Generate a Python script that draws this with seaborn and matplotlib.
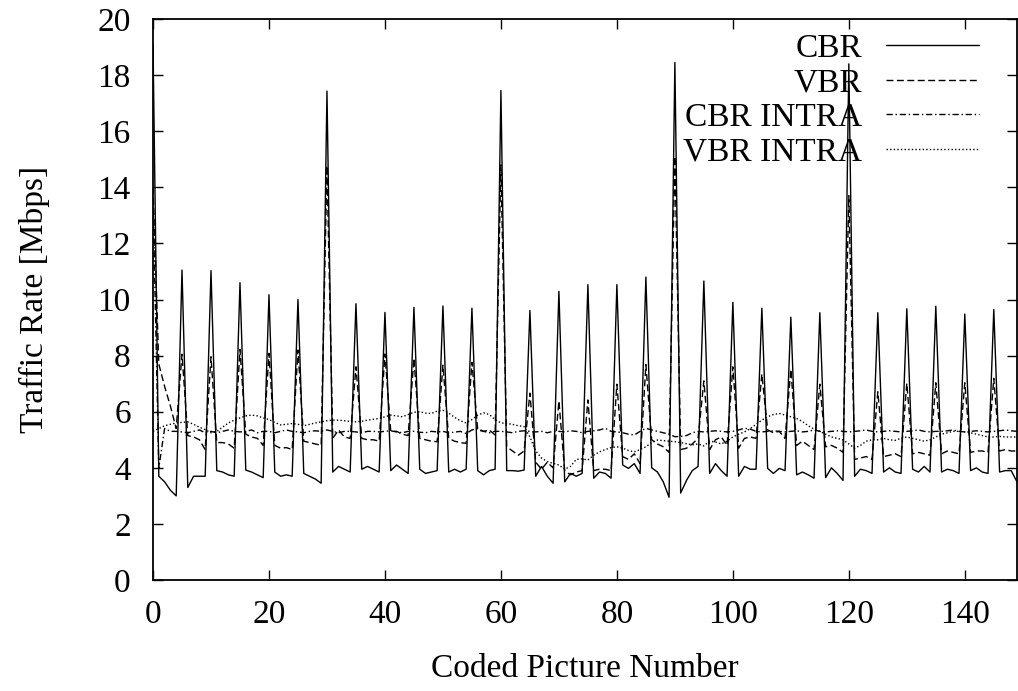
import numpy as np
import pandas as pd
import matplotlib
matplotlib.use("Agg")
import matplotlib.pyplot as plt
import seaborn as sns

frames = list(range(150))

cbr = [19.1, 3.7, 3.5, 3.2, 3.0,
       11.05, 3.3, 3.7, 3.7, 3.7,
       11.03, 3.9, 3.85, 3.75, 3.7,
       10.6, 3.92, 3.85, 3.75, 3.65,
       10.17, 3.85, 3.7, 3.75, 3.7,
       10.0, 3.8, 3.7, 3.6, 3.45,
       17.43, 3.85, 4.05, 3.95, 3.85,
       9.85, 3.95, 4.05, 3.95, 3.85,
       9.54, 3.9, 4.1, 3.95, 3.8,
       9.72, 3.95, 3.8, 3.85, 3.9,
       9.77, 3.85, 3.95, 3.85, 3.95,
       9.69, 3.9, 3.75, 3.9, 3.95,
       17.45, 3.9, 3.9, 3.88, 3.92,
       9.61, 3.7, 4.05, 3.7, 3.45,
       10.29, 3.5, 3.8, 3.7, 3.8,
       10.53, 3.63, 3.85, 3.8, 3.63,
       10.53, 4.1, 3.98, 4.15, 3.8,
       10.8, 4.0, 3.85, 3.5, 2.95,
       18.45, 3.1, 3.55, 3.9, 4.05,
       10.66, 3.8, 4.15, 3.9, 3.7,
       9.9, 3.7, 4.05, 3.95, 3.95,
       9.69, 3.98, 3.8, 3.98, 3.9,
       9.37, 3.75, 3.85, 3.75, 3.63,
       9.53, 3.65, 4.0, 3.8, 3.55,
       18.4, 3.7, 3.95, 3.9, 3.8,
       9.53, 3.85, 4.0, 3.85, 3.8,
       9.67, 3.95, 3.85, 4.05, 3.85,
       9.76, 3.85, 3.95, 3.9, 3.8,
       9.48, 3.9, 4.0, 3.85, 3.8,
       9.64, 3.85, 3.9, 3.9, 3.5]

vbr = [14.0, 7.7, 6.9, 6.2, 5.4,
       8.05, 5.15, 5.1, 5.0, 4.65,
       7.96, 4.9, 4.9, 4.85, 4.7,
       8.22, 5.2, 5.1, 5.05, 4.8,
       8.08, 4.8, 4.7, 4.72, 4.65,
       8.2, 4.95, 4.9, 4.85, 4.8,
       14.77, 5.05, 5.35, 5.1, 5.05,
       7.6, 5.05, 5.0, 5.0, 4.95,
       8.06, 5.3, 5.3, 5.2, 5.15,
       7.9, 5.05, 5.0, 4.95, 4.93,
       7.66, 5.05, 4.95, 4.9, 4.87,
       7.76, 5.35, 5.3, 5.35, 5.17,
       14.8, 4.75, 4.6, 4.45, 4.6,
       6.66, 4.2, 3.95, 4.2, 4.0,
       6.38, 3.9, 3.75, 3.85, 3.9,
       6.42, 3.9, 3.95, 3.95, 3.9,
       6.98, 4.4, 4.3, 4.5, 4.15,
       7.68, 5.0, 4.85, 4.75, 4.55,
       15.1, 4.65, 4.7, 4.85, 5.05,
       7.1, 4.65, 5.0, 5.1, 4.8,
       7.6, 4.7, 5.05, 5.1, 5.05,
       7.34, 5.35, 5.25, 5.3, 5.05,
       7.51, 4.8, 4.95, 4.8, 4.65,
       6.98, 4.75, 4.8, 4.7, 4.55,
       13.7, 4.3, 4.35, 4.4, 4.3,
       6.71, 4.4, 4.45, 4.5, 4.4,
       7.01, 4.5, 4.55, 4.5, 4.45,
       7.03, 4.5, 4.6, 4.55, 4.5,
       7.03, 4.55, 4.6, 4.6, 4.55,
       7.19, 4.6, 4.65, 4.6, 4.6]

cbr_intra = [13.6, 4.0, 5.4, 5.3, 5.3,
             5.28, 5.25, 5.3, 5.35, 5.25,
             5.3, 5.25, 5.3, 5.35, 5.3,
             5.28, 5.3, 5.35, 5.25, 5.3,
             5.3, 5.25, 5.3, 5.35, 5.3,
             5.28, 5.25, 5.3, 5.32, 5.3,
             5.35, 5.3, 5.25, 5.3, 5.3,
             5.28, 5.25, 5.3, 5.3, 5.28,
             5.3, 5.32, 5.28, 5.25, 5.3,
             5.3, 5.27, 5.25, 5.3, 5.28,
             5.3, 5.25, 5.27, 5.3, 5.22,
             5.35, 5.4, 5.3, 5.25, 5.3,
             5.3, 5.28, 5.25, 5.3, 5.32,
             5.3, 5.28, 5.3, 5.25, 5.3,
             5.3, 5.28, 5.32, 5.3, 5.25,
             5.3, 5.32, 5.35, 5.41, 5.3,
             5.28, 5.25, 5.2, 5.17, 5.3,
             5.41, 5.35, 5.3, 5.25, 5.2,
             5.11, 5.12, 5.15, 5.25, 5.3,
             5.28, 5.3, 5.32, 5.3, 5.28,
             5.3, 5.35, 5.41, 5.38, 5.3,
             5.28, 5.3, 5.32, 5.3, 5.28,
             5.3, 5.32, 5.28, 5.3, 5.35,
             5.3, 5.28, 5.3, 5.32, 5.3,
             5.28, 5.3, 5.32, 5.35, 5.3,
             5.28, 5.3, 5.32, 5.3, 5.28,
             5.3, 5.32, 5.35, 5.3, 5.28,
             5.3, 5.3, 5.32, 5.35, 5.3,
             5.28, 5.3, 5.32, 5.3, 5.28,
             5.3, 5.32, 5.35, 5.32, 5.3]

vbr_intra = [5.3, 5.4, 5.5, 5.55, 5.6,
             5.62, 5.64, 5.55, 5.45, 5.36,
             5.25, 5.3, 5.45, 5.6, 5.7,
             5.78, 5.85, 5.88, 5.85, 5.78,
             5.72, 5.62, 5.53, 5.55, 5.58,
             5.55, 5.5, 5.55, 5.6, 5.64,
             5.68, 5.7, 5.7, 5.68, 5.65,
             5.64, 5.66, 5.7, 5.73, 5.76,
             5.82, 5.88, 5.85, 5.82, 5.9,
             5.98, 6.0, 5.95, 5.94, 6.02,
             6.05, 5.95, 5.8, 5.68, 5.6,
             5.72, 5.88, 5.96, 5.9, 5.72,
             5.6, 5.58, 5.55, 5.5, 5.47,
             5.1, 4.6, 4.35, 4.22, 4.16,
             4.1, 3.95, 4.05, 4.3, 4.32,
             4.28, 4.45, 4.57, 4.65, 4.72,
             4.75, 4.7, 4.62, 4.57, 4.65,
             4.75, 4.9, 4.99, 4.97, 4.95,
             4.93, 4.9, 4.86, 4.82, 4.85,
             4.78, 4.95, 4.92, 4.85, 4.95,
             5.1, 5.2, 5.28, 5.4, 5.55,
             5.7, 5.82, 5.9, 5.94, 5.88,
             5.82, 5.76, 5.65, 5.5, 5.38,
             5.3, 5.2, 5.1, 5.05, 5.0,
             4.85, 4.7, 4.8, 4.95, 5.0,
             5.0, 5.05, 5.0, 4.98, 5.05,
             5.1, 5.05, 5.0, 4.95, 5.0,
             5.1, 5.2, 5.25, 5.3, 5.3,
             5.28, 5.25, 5.2, 5.15, 5.1,
             5.1, 5.12, 5.1, 5.1, 5.1]

series_names = ["CBR", "VBR", "CBR INTRA", "VBR INTRA"]
x_ticks = [0, 20, 40, 60, 80, 100, 120, 140]
y_ticks = [0, 2, 4, 6, 8, 10, 12, 14, 16, 18, 20]

df = pd.DataFrame({
    "frame": frames * 4,
    "rate": cbr + vbr + cbr_intra + vbr_intra,
    "series": sum([[n] * len(frames) for n in series_names], []),
})

sns.set_theme(style="ticks")
plt.rcParams["font.family"] = ["Liberation Serif", "DejaVu Serif"]
plt.rcParams["xtick.direction"] = "in"
plt.rcParams["ytick.direction"] = "in"
plt.rcParams["text.color"] = "black"
plt.rcParams["axes.labelcolor"] = "black"
plt.rcParams["xtick.color"] = "black"
plt.rcParams["ytick.color"] = "black"
plt.rcParams["xtick.labelcolor"] = "black"
plt.rcParams["ytick.labelcolor"] = "black"
plt.rcParams["legend.labelcolor"] = "black"

fig = plt.figure(figsize=(10.18, 6.91), dpi=100)
ax = fig.add_axes([0.1503, 0.1606, 0.8487, 0.8119])

dash_map = {"CBR": "", "VBR": (5, 2.5), "CBR INTRA": (4.5, 2, 1, 2), "VBR INTRA": (1, 1.6)}
sns.lineplot(data=df, x="frame", y="rate", style="series", style_order=series_names,
             dashes=dash_map, color="black", linewidth=1.0, ax=ax, legend=False,
             estimator=None, sort=False)

lines = ax.get_lines()[:4]
leg = ax.legend(lines, series_names, loc="upper right", bbox_to_anchor=(0.956, 0.974),
                markerfirst=False, frameon=False, fontsize=24, handlelength=2.8,
                handletextpad=0.7, labelspacing=0.12, borderpad=0, borderaxespad=0)
for t in leg.get_texts():
    t.set_color("black")

ax.set_xlim(0, 149)
ax.set_ylim(0, 20)
ax.set_xticks(x_ticks)
ax.set_yticks(y_ticks)
ax.tick_params(axis="both", which="major", labelsize=24, length=7, width=1.0,
               top=True, right=True, colors="black", labelcolor="black")
ax.tick_params(axis="y", pad=16)
ax.tick_params(axis="x", pad=14)
for s in ax.spines.values():
    s.set_visible(True)
    s.set_color("black")
    s.set_linewidth(1.3)

ax.set_xlabel("Coded Picture Number", fontsize=24, labelpad=17, color="black")
ax.set_ylabel("Traffic Rate [Mbps]", fontsize=24, labelpad=34, color="black")
ax.grid(False)
ax.set_facecolor("white")
fig.patch.set_facecolor("white")

fig.savefig("out.png", dpi=100)
